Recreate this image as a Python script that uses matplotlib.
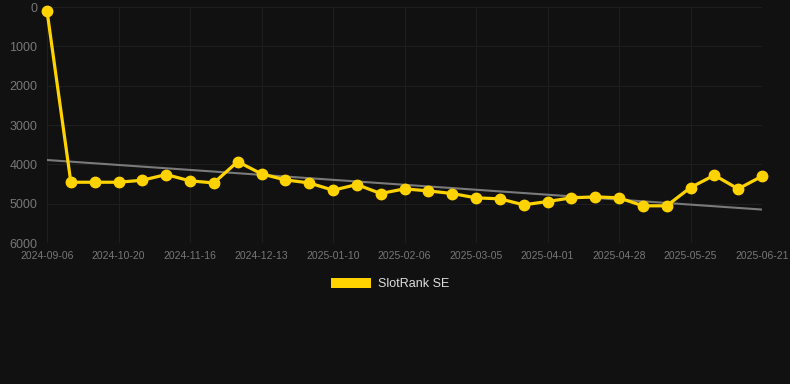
import matplotlib
matplotlib.use("Agg")
import matplotlib.pyplot as plt
from matplotlib.patches import Patch
import numpy as np

# SlotRank SE rank values (lower is better, axis inverted)
ranks = [100, 4455, 4455, 4455, 4404, 4260, 4420, 4472, 3931, 4243,
         4396, 4472, 4658, 4514, 4742, 4624, 4675, 4742, 4852, 4877,
         5030, 4945, 4852, 4827, 4852, 5055, 5055, 4590, 4277, 4624, 4302]
tick_labels = ["2024-09-06", "2024-10-20", "2024-11-16", "2024-12-13",
               "2025-01-10", "2025-02-06", "2025-03-05", "2025-04-01",
               "2025-04-28", "2025-05-25", "2025-06-21"]
trend_ends = [3890, 5150]

plt.rcParams["font.family"] = ["Liberation Sans", "DejaVu Sans"]

bg = "#111111"
yellow = "#FFD300"

fig = plt.figure(figsize=(7.9, 3.84), dpi=100, facecolor=bg)
ax = fig.add_axes([47 / 790, 1 - 243 / 384, 715 / 790, 236 / 384])
ax.set_facecolor(bg)

x = np.arange(len(ranks))
ax.plot([x[0], x[-1]], trend_ends, color="#7a7a7a", lw=1.5, zorder=2)
ax.plot(x, ranks, color=yellow, lw=2.3, marker="o", markersize=7.5,
        clip_on=False, zorder=3)

ax.set_xlim(0, len(ranks) - 1)
ax.set_ylim(6000, 0)
ax.set_yticks([0, 1000, 2000, 3000, 4000, 5000, 6000])
ax.set_xticks(x[::3])
ax.set_xticklabels(tick_labels)
ax.tick_params(axis="x", colors="#777777", labelsize=7.5, length=0, pad=6)
ax.tick_params(axis="y", colors="#777777", labelsize=9, length=0, pad=7)
ax.grid(True, color="#1e1e1e", lw=0.8)
for s in ax.spines.values():
    s.set_visible(False)
ax.axhline(6000, color="#2a2a2a", lw=0.8, zorder=1)

leg = fig.legend(handles=[Patch(facecolor=yellow, label="SlotRank SE")],
                 loc="center", bbox_to_anchor=(390 / 790, 1 - 284 / 384),
                 frameon=False, handlelength=3.2, handleheight=0.9,
                 fontsize=9, labelcolor="#dddddd", handletextpad=0.5)

fig.savefig("out.png", dpi=100, facecolor=bg)
